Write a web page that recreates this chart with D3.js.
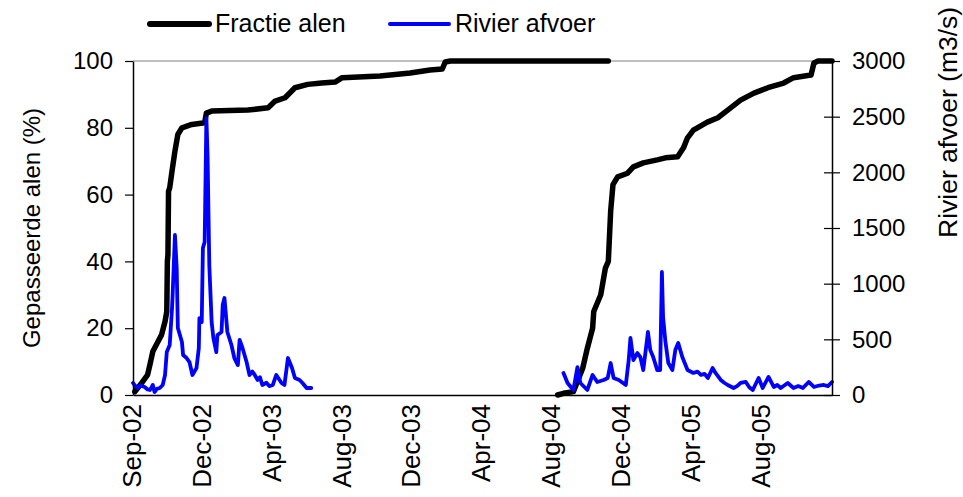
<!DOCTYPE html>
<html>
<head>
<meta charset="utf-8">
<script src="https://cdn.jsdelivr.net/npm/d3@7"></script>
<style>
  body { margin: 0; background: #fff; }
  text { font-family: "Liberation Sans", Arial, sans-serif; fill: #000; }
</style>
</head>
<body>
<div id="chart"></div>
<script>
// Fractie alen (% gepasseerd), seizoen 2002-2004
const fractieSeizoen1 = [
  ['2002-09-04', 1], ['2002-09-16', 3.6], ['2002-09-26', 6], ['2002-09-30', 9],
  ['2002-10-05', 13], ['2002-10-14', 16], ['2002-10-20', 18], ['2002-10-26', 22],
  ['2002-10-29', 25], ['2002-10-30', 40], ['2002-10-31', 42], ['2002-11-01', 61],
  ['2002-11-03', 62], ['2002-11-07', 67], ['2002-11-12', 73], ['2002-11-17', 78],
  ['2002-11-24', 80], ['2002-12-11', 81], ['2003-01-02', 81.5], ['2003-01-05', 84.4],
  ['2003-01-14', 85], ['2003-03-17', 85.3], ['2003-04-21', 86], ['2003-05-03', 88],
  ['2003-05-20', 89], ['2003-06-06', 92], ['2003-06-28', 93], ['2003-07-22', 93.4],
  ['2003-08-14', 93.7], ['2003-08-26', 95], ['2003-10-30', 95.5], ['2003-12-21', 96.4],
  ['2004-01-24', 97.3], ['2004-02-14', 97.6], ['2004-02-19', 99.7], ['2004-02-28', 100],
  ['2004-11-25', 100]
];

// Fractie alen (% gepasseerd), seizoen 2004-2005
const fractieSeizoen2 = [
  ['2004-08-30', 0], ['2004-09-09', 0.5], ['2004-09-26', 1], ['2004-10-12', 8],
  ['2004-10-20', 14], ['2004-10-29', 20], ['2004-10-31', 25], ['2004-11-12', 30],
  ['2004-11-20', 38], ['2004-11-25', 40], ['2004-11-29', 55], ['2004-12-03', 63],
  ['2004-12-11', 65.3], ['2004-12-28', 66.4], ['2005-01-07', 68.3], ['2005-01-24', 69.5],
  ['2005-02-17', 70.4], ['2005-03-03', 71], ['2005-03-24', 71.3], ['2005-04-03', 74],
  ['2005-04-10', 77], ['2005-04-20', 79.3], ['2005-05-14', 81.7], ['2005-06-01', 83],
  ['2005-06-18', 85.3], ['2005-07-10', 88.3], ['2005-08-02', 90.4], ['2005-08-26', 92],
  ['2005-09-22', 93.4], ['2005-10-09', 95], ['2005-11-08', 95.8], ['2005-11-13', 99.4],
  ['2005-11-20', 100], ['2005-12-14', 100]
];

// Rivier afvoer (m3/s), seizoen 2002-2003
const afvoerSeizoen1 = [
  ['2002-09-01', 108], ['2002-09-05', 80], ['2002-09-09', 63], ['2002-09-14', 85],
  ['2002-09-21', 72], ['2002-09-26', 50], ['2002-09-30', 45], ['2002-10-03', 70],
  ['2002-10-05', 90], ['2002-10-08', 27], ['2002-10-12', 55], ['2002-10-17', 63],
  ['2002-10-22', 90], ['2002-10-26', 180], ['2002-10-29', 386], ['2002-11-03', 449],
  ['2002-11-07', 781], ['2002-11-08', 898], ['2002-11-12', 1437], ['2002-11-15', 1140],
  ['2002-11-17', 602], ['2002-11-24', 476], ['2002-11-26', 359], ['2002-12-02', 332],
  ['2002-12-07', 296], ['2002-12-12', 180], ['2002-12-19', 242], ['2002-12-23', 422],
  ['2002-12-24', 691], ['2002-12-28', 655], ['2002-12-30', 1320], ['2003-01-02', 1374],
  ['2003-01-05', 2487], ['2003-01-07', 2155], ['2003-01-10', 1167], ['2003-01-14', 655],
  ['2003-01-17', 512], ['2003-01-22', 386], ['2003-01-24', 539], ['2003-01-31', 566],
  ['2003-02-02', 808], ['2003-02-05', 871], ['2003-02-10', 566], ['2003-02-17', 449],
  ['2003-02-22', 332], ['2003-02-28', 269], ['2003-03-03', 494], ['2003-03-08', 422],
  ['2003-03-15', 296], ['2003-03-20', 180], ['2003-03-25', 210], ['2003-03-29', 180],
  ['2003-04-03', 135], ['2003-04-07', 160], ['2003-04-11', 90], ['2003-04-18', 110],
  ['2003-04-23', 80], ['2003-04-29', 90], ['2003-05-05', 180], ['2003-05-14', 108],
  ['2003-05-19', 90], ['2003-05-25', 332], ['2003-06-01', 242], ['2003-06-06', 153],
  ['2003-06-14', 135], ['2003-06-19', 108], ['2003-06-26', 63], ['2003-07-04', 63]
];

// Rivier afvoer (m3/s), seizoen 2004-2005
const afvoerSeizoen2 = [
  ['2004-09-09', 198], ['2004-09-16', 108], ['2004-09-26', 45], ['2004-10-03', 251],
  ['2004-10-08', 108], ['2004-10-20', 45], ['2004-10-29', 180], ['2004-11-06', 117],
  ['2004-11-17', 135], ['2004-11-24', 153], ['2004-11-29', 287], ['2004-12-04', 153],
  ['2004-12-13', 135], ['2004-12-25', 90], ['2004-12-30', 314], ['2005-01-02', 512],
  ['2005-01-07', 314], ['2005-01-14', 377], ['2005-01-19', 341], ['2005-01-24', 224],
  ['2005-01-31', 521], ['2005-02-01', 566], ['2005-02-05', 404], ['2005-02-10', 341],
  ['2005-02-17', 224], ['2005-02-22', 224], ['2005-02-25', 1105], ['2005-02-27', 700],
  ['2005-03-03', 480], ['2005-03-08', 287], ['2005-03-15', 224], ['2005-03-20', 404],
  ['2005-03-25', 467], ['2005-04-01', 341], ['2005-04-10', 224], ['2005-04-20', 198],
  ['2005-04-27', 210], ['2005-05-03', 180], ['2005-05-09', 190], ['2005-05-15', 153],
  ['2005-05-23', 242], ['2005-05-28', 198], ['2005-06-06', 135], ['2005-06-12', 110],
  ['2005-06-18', 90], ['2005-06-28', 63], ['2005-07-04', 80], ['2005-07-10', 108],
  ['2005-07-19', 117], ['2005-07-25', 70], ['2005-07-31', 45], ['2005-08-10', 153],
  ['2005-08-17', 63], ['2005-08-27', 162], ['2005-09-05', 72], ['2005-09-11', 90],
  ['2005-09-17', 63], ['2005-09-29', 108], ['2005-10-09', 63], ['2005-10-17', 80],
  ['2005-10-25', 63], ['2005-11-04', 117], ['2005-11-13', 72], ['2005-11-22', 85],
  ['2005-11-30', 90], ['2005-12-07', 80], ['2005-12-14', 117]
];

// x-as: datumbereik en tick labels
const xDomain = ['2002-09-01', '2005-12-14'];
const xTickDates = [
  '2002-09-01', '2002-12-30', '2003-04-29', '2003-08-27', '2003-12-25',
  '2004-04-23', '2004-08-21', '2004-12-19', '2005-04-18', '2005-08-16'
];
const leftTicks = [0, 20, 40, 60, 80, 100];
const rightTicks = [0, 500, 1000, 1500, 2000, 2500, 3000];

const width = 963;
const height = 497;
const plot = { left: 133, right: 832, top: 61, bottom: 395 };

const parseDate = d3.timeParse('%Y-%m-%d');
const monthNames = ['Jan', 'Feb', 'Mar', 'Apr', 'May', 'Jun', 'Jul', 'Aug', 'Sep', 'Oct', 'Nov', 'Dec'];
const fmtDate = d => monthNames[d.getMonth()] + '-' + d3.timeFormat('%y')(d);

const svg = d3.select('#chart')
  .append('svg')
  .attr('width', width)
  .attr('height', height);

// Scales
const x = d3.scaleTime()
  .domain(xDomain.map(parseDate))
  .range([plot.left, plot.right]);

const yLeft = d3.scaleLinear()
  .domain([0, 100])
  .range([plot.bottom, plot.top]);

const yRight = d3.scaleLinear()
  .domain([0, 3000])
  .range([plot.bottom, plot.top]);

// Plot area top border
svg.append('line')
  .attr('x1', plot.left).attr('x2', plot.right)
  .attr('y1', plot.top).attr('y2', plot.top)
  .attr('stroke', '#808080')
  .attr('stroke-width', 1);

// Lines
const fractieLine = d3.line()
  .x(d => x(parseDate(d[0])))
  .y(d => yLeft(d[1]));

const afvoerLine = d3.line()
  .x(d => x(parseDate(d[0])))
  .y(d => yRight(d[1]));

[fractieSeizoen1, fractieSeizoen2].forEach(series => {
  svg.append('path')
    .datum(series)
    .attr('d', fractieLine)
    .attr('fill', 'none')
    .attr('stroke', '#000')
    .attr('stroke-width', 5.5)
    .attr('stroke-linejoin', 'round')
    .attr('stroke-linecap', 'round');
});

[afvoerSeizoen1, afvoerSeizoen2].forEach(series => {
  svg.append('path')
    .datum(series)
    .attr('d', afvoerLine)
    .attr('fill', 'none')
    .attr('stroke', '#0000ff')
    .attr('stroke-width', 3.8)
    .attr('stroke-linejoin', 'round')
    .attr('stroke-linecap', 'round');
});

// Axes
const styleAxis = g => {
  g.select('.domain').attr('stroke', '#000').attr('stroke-width', 1.5);
  g.selectAll('.tick line').attr('stroke', '#000').attr('stroke-width', 1.2);
  g.selectAll('.tick text')
    .style('font-size', '24px')
    .attr('fill', '#000');
};

svg.append('g')
  .attr('transform', `translate(${plot.left},0)`)
  .call(d3.axisLeft(yLeft).tickValues(leftTicks).tickSize(8).tickSizeOuter(0).tickPadding(12))
  .call(styleAxis);

const rightAxis = svg.append('g')
  .attr('transform', `translate(${plot.right},0)`)
  .call(d3.axisRight(yRight)
    .tickValues(rightTicks)
    .tickFormat(d3.format('d'))
    .tickSize(8).tickSizeOuter(0).tickPadding(12))
  .call(styleAxis);

// right axis ticks cross the axis line
rightAxis.selectAll('.tick line').attr('x1', -8).attr('x2', 8);

const bottomAxis = svg.append('g')
  .attr('transform', `translate(0,${plot.bottom})`)
  .call(d3.axisBottom(x)
    .tickValues(xTickDates.map(parseDate))
    .tickFormat(fmtDate)
    .tickSize(0)
    .tickSizeOuter(0))
  .call(styleAxis);

bottomAxis.selectAll('.tick text')
  .style('font-size', '26px')
  .attr('transform', 'rotate(-90)')
  .attr('text-anchor', 'end')
  .attr('x', -9)
  .attr('y', -2)
  .attr('dy', '0.36em');

// Axis titles
svg.append('text')
  .attr('transform', 'translate(40,228) rotate(-90)')
  .attr('text-anchor', 'middle')
  .style('font-size', '24px')
  .text('Gepasseerde alen (%)');

svg.append('text')
  .attr('transform', 'translate(957,238) rotate(-90)')
  .attr('text-anchor', 'start')
  .style('font-size', '26.5px')
  .text('Rivier afvoer (m3/s)');

// Legend
const legendItems = [
  { label: 'Fractie alen', color: '#000', width: 6, x: 150 },
  { label: 'Rivier afvoer', color: '#0000ff', width: 4, x: 390 }
];

const legend = svg.append('g').attr('class', 'legend');

legendItems.forEach(item => {
  legend.append('line')
    .attr('x1', item.x).attr('x2', item.x + 59)
    .attr('y1', 24).attr('y2', 24)
    .attr('stroke', item.color)
    .attr('stroke-width', item.width)
    .attr('stroke-linecap', 'round');

  legend.append('text')
    .attr('x', item.x + 65)
    .attr('y', 32)
    .style('font-size', '25px')
    .text(item.label);
});
</script>
</body>
</html>
